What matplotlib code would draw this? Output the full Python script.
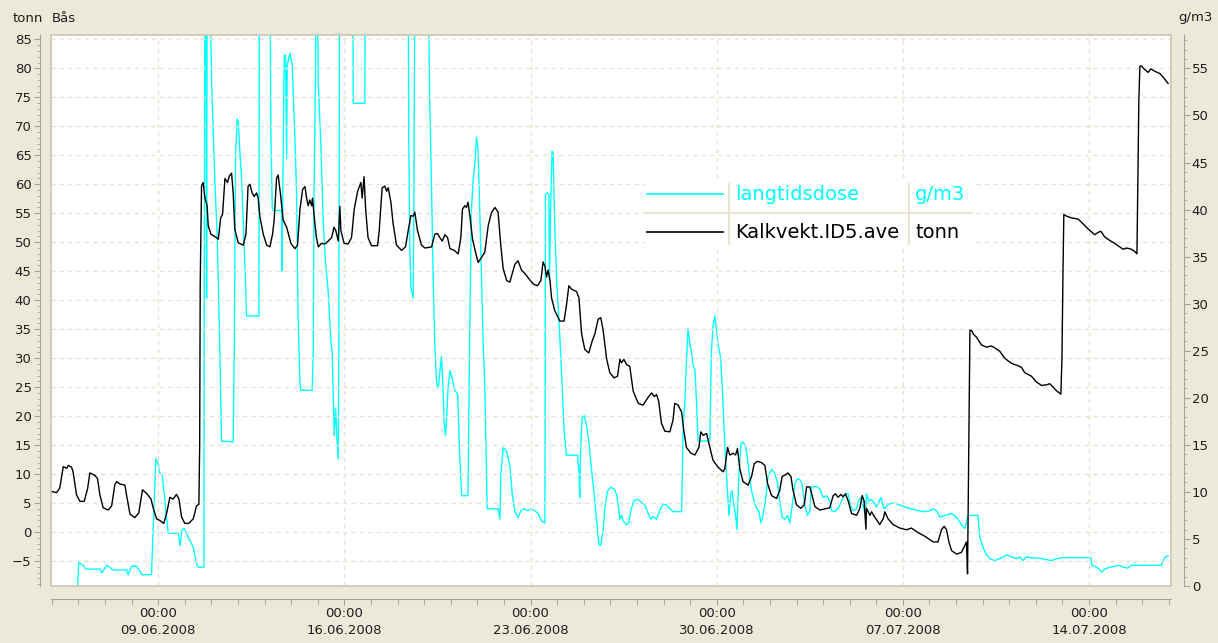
import matplotlib
matplotlib.use("Agg")
import matplotlib.pyplot as plt
import matplotlib.dates as mdates
from matplotlib.lines import Line2D
from matplotlib.patches import Rectangle
from matplotlib.ticker import MultipleLocator, FixedLocator
from datetime import datetime

# time axis: days after 05.06.2008 00:00
start = mdates.date2num(datetime(2008, 6, 5))

# Kalkvekt.ID5.ave (tonn, left axis)
kalk_days = [
    0.00, 0.18, 0.30, 0.43, 0.56, 0.62, 0.74, 0.80, 0.93, 1.06, 1.22, 1.35, 1.43, 1.62, 1.72, 1.81,
    1.93, 2.12, 2.25, 2.37, 2.44, 2.56, 2.75, 2.81, 2.94, 3.12, 3.27, 3.41, 3.56, 3.73, 3.81, 3.94,
    4.06, 4.21, 4.32, 4.44, 4.56, 4.69, 4.78, 4.88, 5.00, 5.15, 5.32, 5.44, 5.53, 5.56, 5.58, 5.63,
    5.69, 5.76, 5.84, 5.88, 5.98, 6.16, 6.26, 6.35, 6.42, 6.51, 6.61, 6.67, 6.76, 6.82, 6.88,
    7.01, 7.20, 7.30, 7.38, 7.45, 7.53, 7.61, 7.70, 7.76, 7.82, 7.95, 8.08, 8.20, 8.30, 8.36, 8.45,
    8.51, 8.60, 8.70, 8.83, 8.99, 9.14, 9.24, 9.33, 9.43, 9.52, 9.58, 9.64, 9.70, 9.77, 9.80, 9.89,
    9.95, 10.02, 10.14, 10.27, 10.39, 10.52, 10.61, 10.68, 10.77, 10.83, 10.87, 10.99, 11.14, 11.27,
    11.37, 11.50, 11.62, 11.67, 11.74, 11.80, 11.89, 12.02, 12.25, 12.31, 12.42, 12.52, 12.59, 12.65,
    12.75, 12.83, 12.96, 13.15, 13.30, 13.40, 13.50, 13.59, 13.65, 13.75, 13.90, 14.03,
    14.28, 14.40, 14.50, 14.59, 14.68, 14.78, 14.88, 14.97, 15.13, 15.28, 15.38, 15.44, 15.53, 15.59,
    15.65, 15.72, 15.82, 15.93, 16.03, 16.16, 16.28, 16.41, 16.53, 16.66, 16.78, 16.88, 16.97, 17.10,
    17.22, 17.31, 17.41, 17.53, 17.66, 17.79, 17.94, 18.10, 18.26, 18.39, 18.47, 18.54, 18.60, 18.66,
    18.73, 18.79, 18.91, 19.10, 19.26, 19.35, 19.44, 19.54, 19.73, 19.82, 19.92, 20.04, 20.19, 20.32,
    20.42, 20.54, 20.64, 20.73, 20.86, 20.98, 21.14, 21.27,
    21.36, 21.42, 21.51, 21.61, 21.73, 21.86, 22.05, 22.23, 22.40, 22.55, 22.65, 22.74, 22.82, 22.92,
    23.05, 23.24, 23.36, 23.42, 23.55, 23.68, 23.76, 23.86, 24.03, 24.18, 24.33, 24.40, 24.49, 24.62,
    24.71, 24.86, 25.05, 25.24, 25.30, 25.41, 25.49, 25.62, 25.71, 25.78, 25.87, 25.99, 26.18, 26.31,
    26.41, 26.53, 26.68, 26.81, 26.91, 27.06, 27.25, 27.37, 27.46, 27.59, 27.68, 27.79, 27.87, 28.00,
    28.16, 28.29, 28.38, 28.50,
    28.56, 28.69, 28.88, 29.06, 29.25, 29.38, 29.47, 29.56, 29.67, 29.75, 29.84, 29.94, 30.07, 30.26,
    30.38, 30.47, 30.54, 30.61, 30.63, 30.76, 30.82, 30.94, 31.13, 31.26, 31.32, 31.44, 31.63, 31.88,
    32.14, 32.32, 32.57, 32.82, 33.14, 33.32, 33.45, 33.55, 33.64, 33.73, 33.83, 34.02, 34.20, 34.33,
    34.39, 34.43, 34.48, 34.52, 34.58, 34.64, 34.77, 34.95, 35.14, 35.33, 35.45,
    35.64, 35.83, 36.02, 36.14, 36.33, 36.46, 36.58, 36.71, 36.83, 37.02, 37.21, 37.40, 37.52, 37.65,
    37.77, 37.94, 37.98, 38.02, 38.05, 38.15, 38.34, 38.59, 38.77, 38.96, 39.21, 39.34, 39.44, 39.59,
    39.78, 39.97, 40.15, 40.28, 40.41, 40.59, 40.72, 40.80, 40.84, 40.87, 40.91, 40.97, 41.09, 41.22,
    41.32, 41.47, 41.66, 41.78, 41.97,
]
kalk_tonn = [
    7.0, 6.8, 7.6, 11.3, 11.0, 11.5, 11.2, 10.4, 6.4, 5.3, 5.3, 7.6, 10.2, 9.8, 9.2, 6.4,
    4.2, 3.8, 4.5, 8.2, 8.7, 8.3, 8.1, 6.4, 3.1, 2.5, 3.3, 7.3, 6.7, 5.7, 4.2, 2.3,
    2.0, 1.5, 3.3, 6.0, 5.7, 6.5, 5.7, 2.6, 1.5, 1.5, 2.3, 4.5, 4.8, 15.0, 42.7, 59.7,
    60.3, 57.6, 56.3, 52.9, 51.4, 50.9, 50.5, 54.2, 54.8, 61.0, 60.3, 61.4, 61.9, 58.5, 52.3,
    49.9, 49.5, 51.4, 59.7, 60.0, 58.5, 57.9, 58.5, 57.6, 54.5, 51.4, 49.5, 49.2, 51.4, 53.8, 61.0,
    61.6, 58.2, 53.8, 52.6, 49.8, 48.9, 49.5, 55.7, 59.1, 59.6, 57.6, 56.3, 57.3, 56.3, 57.6, 53.3,
    50.8, 49.2, 49.8, 49.7, 50.2, 50.8, 52.6, 52.0, 50.2, 56.2, 52.0, 49.8, 49.7, 50.8,
    55.7, 58.8, 60.3, 57.6, 61.3, 55.7, 50.8, 49.4, 49.4, 52.0, 59.4, 59.7, 58.8, 59.4,
    56.9, 53.3, 49.5, 48.6, 49.2, 52.0, 54.6, 54.5, 55.2, 52.0, 49.5, 49.0,
    49.2, 51.4, 51.5, 50.8, 50.2, 51.3, 50.8, 48.9, 48.6, 48.0, 50.8, 55.7, 56.3, 56.0,
    56.9, 54.5, 50.5, 48.3, 46.5, 47.4, 48.3, 52.9, 55.1, 56.0, 55.2, 49.5, 45.5, 43.4,
    43.1, 44.6, 46.2, 46.8, 45.2, 44.6, 43.7, 42.8, 42.5, 43.4, 46.6, 45.9, 44.0, 45.2,
    43.4, 40.4, 38.2, 36.4, 36.4, 39.1, 42.5, 41.9, 41.5, 40.4, 34.2, 31.5, 30.9, 33.0,
    34.2, 36.7, 37.0, 34.8, 29.9, 27.5, 26.6, 26.9,
    29.8, 29.2, 29.8, 28.9, 28.6, 24.3, 22.2, 21.9, 23.1, 24.0, 23.4, 23.7, 22.5, 18.8,
    17.4, 17.3, 19.4, 22.2, 21.9, 20.7, 17.6, 14.6, 13.6, 13.3, 14.6, 17.3, 16.7, 17.0,
    15.2, 12.4, 11.2, 10.4, 10.9, 14.6, 13.3, 13.6, 13.3, 14.4, 10.9, 8.7, 8.1, 9.6,
    11.8, 12.2, 12.0, 11.5, 8.4, 6.3, 5.8, 7.2, 9.6, 9.9, 10.2, 9.6, 7.2, 4.7,
    4.1, 4.7, 7.8, 7.8,
    6.8, 4.4, 3.8, 4.0, 4.2, 6.3, 6.6, 6.0, 6.5, 6.1, 6.6, 5.4, 3.2, 2.9,
    4.1, 6.3, 5.4, 0.5, 4.1, 2.9, 3.5, 2.6, 1.3, 2.3, 3.5, 2.3, 1.3, 0.7,
    0.4, 0.7, -0.1, -0.7, -1.7, -1.7, 0.4, 1.0, 0.4, -1.7, -3.2, -3.8, -3.5, -2.3,
    -1.7, -7.2, 16.2, 34.8, 34.8, 34.2, 33.6, 32.3, 31.9, 32.1, 31.8,
    31.2, 30.0, 29.3, 29.0, 28.7, 28.4, 27.5, 27.2, 26.9, 25.9, 25.3, 25.4, 25.6, 25.0,
    24.4, 23.8, 30.1, 45.2, 54.8, 54.5, 54.2, 54.0, 53.2, 52.3, 51.3, 51.7, 51.9, 50.9,
    50.3, 49.8, 49.2, 48.8, 49.0, 48.8, 48.4, 48.0, 63.4, 74.2, 80.4, 80.4, 79.8, 79.3,
    79.9, 79.5, 79.1, 78.5, 77.4,
]

# langtidsdose (g/m3, right axis)
dose_days = [
    0.97, 1.01, 1.17, 1.28, 1.81, 1.89, 2.06, 2.18, 2.30, 2.81, 2.87, 3.00, 3.19, 3.31, 3.38, 3.75,
    3.79, 3.91, 4.00, 4.06, 4.15, 4.23, 4.32, 4.38, 4.75, 4.82, 4.90, 4.98, 5.13, 5.32, 5.44, 5.50,
    5.72, 5.73, 5.76, 5.80, 5.82, 5.84, 5.94, 6.01, 6.13, 6.22, 6.32, 6.38, 6.82, 6.86, 6.91, 6.97,
    7.01, 7.07, 7.14, 7.23, 7.30, 7.32, 7.79, 7.80, 8.20, 8.24, 8.29, 8.32, 8.64, 8.65, 8.70, 8.74,
    8.79, 8.83, 8.85, 8.95, 9.04, 9.14, 9.20, 9.26, 9.33, 9.36, 9.79, 9.83, 9.86, 9.92, 9.94, 9.99,
    10.02, 10.12, 10.20, 10.29, 10.39, 10.49, 10.54, 10.59, 10.62, 10.67, 10.72, 10.77, 10.79, 10.82,
    11.32, 11.33, 11.77, 11.78, 13.40, 13.42, 13.46, 13.50, 13.59, 13.61, 13.65, 14.15, 14.21, 14.28,
    14.34, 14.40, 14.47, 14.53, 14.59, 14.65, 14.71, 14.75, 14.80, 14.85, 14.90, 14.97, 15.05, 15.15,
    15.26, 15.34, 15.41, 15.65, 15.69, 15.73, 15.78, 15.84, 15.91, 15.97, 16.03, 16.07, 16.16, 16.22,
    16.28, 16.37, 16.78, 16.85, 16.88, 16.97, 17.10, 17.22, 17.31, 17.41, 17.53, 17.64, 17.76, 17.91,
    18.01, 18.16, 18.29, 18.41, 18.54, 18.56, 18.64, 18.69, 18.71, 18.76, 18.81, 18.85, 18.91, 18.98,
    19.06, 19.16, 19.26, 19.35, 19.77, 19.82, 19.85, 19.88, 19.94, 20.02, 20.11, 20.19, 20.29, 20.39,
    20.48, 20.57, 20.64, 20.73, 20.79, 20.89, 21.02, 21.14, 21.23, 21.30, 21.36, 21.42, 21.48, 21.61,
    21.69, 21.77, 21.89, 22.04, 22.17, 22.30, 22.42, 22.52, 22.61, 22.74, 22.86, 22.98, 23.11, 23.24,
    23.36, 23.68, 23.74, 23.80, 23.86, 23.92, 23.99, 24.05, 24.11, 24.18, 24.24, 24.30, 24.74, 24.80,
    24.86, 24.93, 24.99, 25.05, 25.15, 25.24, 25.33, 25.41, 25.46, 25.53, 25.58, 25.64, 25.71, 25.76,
    25.83, 25.91, 25.98, 26.08, 26.16, 26.23, 26.31, 26.41, 26.50, 26.58, 26.66, 26.74, 26.83, 26.93,
    27.06, 27.18, 27.29, 27.37, 27.46, 27.56, 27.66, 27.75, 27.84, 27.94, 28.04, 28.12, 28.21, 28.31,
    28.41, 28.50, 28.56, 28.75, 28.88, 29.00, 29.13, 29.25, 29.32, 29.44, 29.54, 29.63, 29.75, 29.84,
    29.94, 30.04, 30.13, 30.26, 30.32, 30.42, 30.50, 30.59, 30.63, 30.72, 30.79, 30.88, 31.01, 31.17,
    31.29, 31.42, 31.57, 31.72, 31.88, 32.07, 32.32, 32.57, 32.82, 33.01, 33.14, 33.27, 33.39, 33.58,
    33.83, 34.02, 34.20, 34.33, 34.43, 34.45, 34.82, 34.89, 35.02, 35.14, 35.27, 35.45, 35.71, 35.89,
    36.08, 36.27, 36.39, 36.52, 36.65, 36.83, 37.02, 37.21, 37.40, 37.59, 37.77, 37.96, 39.07, 39.11,
    39.28, 39.49, 39.59, 39.78, 39.97, 40.12, 40.28, 40.46, 40.59, 41.72, 41.78, 41.87, 41.97,
]
dose_gm3 = [
    0.0, 2.5, 2.2, 1.8, 1.8, 1.4, 2.2, 2.0, 1.7, 1.7, 1.2, 2.1, 2.1, 1.6, 1.2, 1.2,
    4.5, 13.5, 13.0, 12.0, 11.8, 9.8, 7.1, 5.6, 5.6, 4.3, 6.0, 6.1, 5.2, 4.1, 2.4, 2.0,
    2.0, 30.2, 65, 65, 30.6, 65, 65, 53.4, 43.1, 37.1, 24.9, 15.4, 15.3, 24.9, 45.8, 49.6,
    49.4, 46.2, 43.1, 36.3, 31.0, 28.7, 28.7, 65, 65, 47.7, 40.1, 39.9, 39.9, 33.5, 45.4, 56.4,
    56.4, 45.4, 55.3, 56.6, 55.3, 47.7, 42.0, 28.7, 21.5, 20.8, 20.8, 24.9, 42.0, 55.3, 65, 65,
    53.4, 46.6, 39.0, 34.4, 31.4, 26.1, 24.9, 19.6, 16.0, 18.9, 15.8, 13.5, 24.9, 65,
    65, 51.3, 51.3, 65, 65, 47.7, 36.3, 31.8, 30.6, 40.1, 65, 65, 51.5, 42.0,
    32.5, 25.7, 21.5, 21.0, 22.7, 24.4, 21.1, 17.4, 16.0, 18.1, 21.1, 22.9, 22.1, 20.8,
    20.4, 13.5, 9.6, 9.6, 21.1, 30.6, 40.1, 43.1, 45.0, 47.7, 46.2, 42.0, 32.5, 25.7,
    21.1, 8.2, 8.2, 7.1, 11.7, 14.7, 14.3, 12.8, 9.8, 7.9, 7.3, 8.0, 8.2, 8.0,
    8.2, 8.0, 7.7, 6.9, 6.7, 41.6, 41.8, 41.6, 32.5, 40.9, 46.2, 46.0, 38.2, 32.5,
    28.7, 23.0, 16.6, 13.9, 13.9, 12.0, 9.4, 14.3, 17.9, 18.1, 17.0, 15.4, 12.4, 9.8,
    7.1, 4.4, 4.3, 5.9, 8.2, 10.1, 10.5, 10.3, 9.8, 8.6, 7.1, 7.5, 6.9, 6.5,
    6.7, 8.0, 9.1, 9.2, 8.9, 8.6, 7.7, 7.1, 7.4, 7.1, 8.0, 8.7, 8.6, 8.2,
    7.9, 7.9, 17.3, 19.2, 23.8, 27.4, 25.7, 24.9, 23.4, 23.0, 19.6, 15.4, 15.4, 24.9,
    27.6, 28.7, 27.2, 25.7, 24.2, 19.2, 13.5, 9.8, 7.5, 9.8, 10.1, 8.6, 7.5, 6.0,
    11.7, 15.1, 15.3, 14.9, 13.5, 11.7, 10.1, 9.0, 8.2, 8.0, 6.7, 7.5, 9.0, 11.7,
    12.4, 12.0, 10.9, 9.0, 7.3, 7.1, 7.5, 6.7, 8.6, 10.9, 11.4, 11.3, 10.9, 8.6,
    7.5, 7.9, 10.5, 10.6, 10.3, 9.4, 9.6, 9.0, 8.0, 7.9, 8.2, 8.6, 9.4, 9.8,
    9.8, 8.4, 8.0, 8.2, 9.0, 9.4, 8.6, 7.5, 9.8, 9.0, 9.2, 9.0, 8.4, 9.4,
    8.2, 8.6, 8.8, 8.8, 8.6, 8.4, 8.2, 8.0, 7.9, 8.0, 8.2, 8.0, 7.3, 7.5,
    7.7, 7.3, 6.5, 6.1, 7.3, 7.5, 7.5, 5.2, 4.1, 3.3, 2.9, 2.7, 3.0, 3.3,
    3.1, 2.9, 3.1, 2.7, 3.1, 3.0, 3.0, 2.9, 2.8, 2.7, 2.9, 3.0, 3.0, 2.2,
    2.0, 1.5, 1.8, 2.0, 2.1, 2.2, 2.0, 1.9, 2.2, 2.2, 2.7, 3.1, 3.2,
]

week_ticks = [datetime(2008, 6, 9), datetime(2008, 6, 16), datetime(2008, 6, 23),
              datetime(2008, 6, 30), datetime(2008, 7, 7), datetime(2008, 7, 14)]
legend_names = ["langtidsdose", "Kalkvekt.ID5.ave"]
legend_units = ["g/m3", "tonn"]
series_colors = ["#00FFFF", "#000000"]

W, H = 1218, 643
BG = "#ECE9D8"
AXC = "#A6A396"
TXT = "#1E1E1E"
GRID = "#E6E3D2"

fig = plt.figure(figsize=(W / 100, H / 100), dpi=100, facecolor=BG)
ax = fig.add_axes([51 / W, 1 - 586 / H, 1120 / W, 551 / H])
ax2 = ax.twinx()

# black series over cyan
ax.set_zorder(2)
ax2.set_zorder(1)
ax.patch.set_visible(False)
ax2.patch.set_visible(True)
ax2.patch.set_facecolor("white")

kx = [start + d for d in kalk_days]
dx = [start + d for d in dose_days]
ax2.plot(dx, dose_gm3, color=series_colors[0], lw=1.0)
ax.plot(kx, kalk_tonn, color=series_colors[1], lw=1.0)

ax.set_xlim(start - 0.03, start + 42.08)
ax.set_ylim(-9.3, 85.75)
ax2.set_ylim(0, 58.55)

# left axis
ax.yaxis.set_major_locator(MultipleLocator(5))
ax.yaxis.set_minor_locator(MultipleLocator(1))
ax.spines["left"].set_position(("outward", 8))
ax.spines["bottom"].set_position(("outward", 9))
for s in ["top", "right"]:
    ax.spines[s].set_visible(False)
for s in ["left", "bottom"]:
    ax.spines[s].set_color(AXC)
ax.tick_params(axis="y", which="major", length=4, color=AXC, labelsize=9.5,
               labelcolor=TXT, pad=2)
ax.tick_params(axis="y", which="minor", length=2, color=AXC)

# right axis
ax2.yaxis.set_major_locator(MultipleLocator(5))
ax2.yaxis.set_minor_locator(MultipleLocator(1))
ax2.spines["right"].set_position(("outward", 9))
for s in ["top", "left", "bottom"]:
    ax2.spines[s].set_visible(False)
ax2.spines["right"].set_color(AXC)
ax2.tick_params(axis="y", which="major", length=4, color=AXC, labelsize=9.5,
                labelcolor=TXT, pad=2)
ax2.tick_params(axis="y", which="minor", length=2, color=AXC)

# time axis
wt = [mdates.date2num(t) for t in week_ticks]
ax.xaxis.set_major_locator(FixedLocator(wt))
ax.xaxis.set_minor_locator(MultipleLocator(1))
ax.set_xticklabels([t.strftime("%H:%M\n%d.%m.%Y") for t in week_ticks])
for lbl in ax.get_xticklabels():
    lbl.set_linespacing(1.45)
ax.tick_params(axis="x", which="both", length=4, color=AXC, labelsize=9.5,
               labelcolor=TXT, pad=2)

ax.grid(True, which="major", color=GRID, lw=1.0, linestyle=(0, (3, 3)))

# plot frame
ax.add_patch(Rectangle((0, 0), 1, 1, transform=ax.transAxes, fill=False,
                       edgecolor="#C9C5B4", lw=1.2, clip_on=False, zorder=10))

# unit headers
fig.text(12.5 / W, 1 - 18 / H, "tonn", fontsize=9.5, color=TXT, va="center", ha="left")
fig.text(51.5 / W, 1 - 18 / H, "Bås", fontsize=9.5, color=TXT, va="center", ha="left")
fig.text(1178 / W, 1 - 18 / H, "g/m3", fontsize=9.5, color=TXT, va="center", ha="left")

# table legend
def fx(px):
    return px / W

def fy(py):
    return 1 - py / H

fig.add_artist(Rectangle((fx(645), fy(246)), fx(972) - fx(645), fy(182) - fy(246),
                         transform=fig.transFigure, facecolor="white", edgecolor="none",
                         zorder=20))
sep = "#E8E5D4"
fig.add_artist(Line2D([fx(645), fx(972)], [fy(213), fy(213)], transform=fig.transFigure,
                      color=sep, lw=1.5, zorder=21))
for xs in (729, 909):
    fig.add_artist(Line2D([fx(xs), fx(xs)], [fy(184), fy(244)], transform=fig.transFigure,
                          color=sep, lw=1.5, zorder=21))
for i, (name, unit, col) in enumerate(zip(legend_names, legend_units, series_colors)):
    yc = 194 + i * 38
    fig.add_artist(Line2D([fx(647), fx(723)], [fy(yc), fy(yc)], transform=fig.transFigure,
                          color=col, lw=1.2, zorder=22))
    fig.text(fx(735), fy(yc), name, fontsize=14, color=col, va="center", ha="left", zorder=22)
    fig.text(fx(915), fy(yc), unit, fontsize=14, color=col, va="center", ha="left", zorder=22)

fig.savefig("out.png", dpi=100, facecolor=BG)
